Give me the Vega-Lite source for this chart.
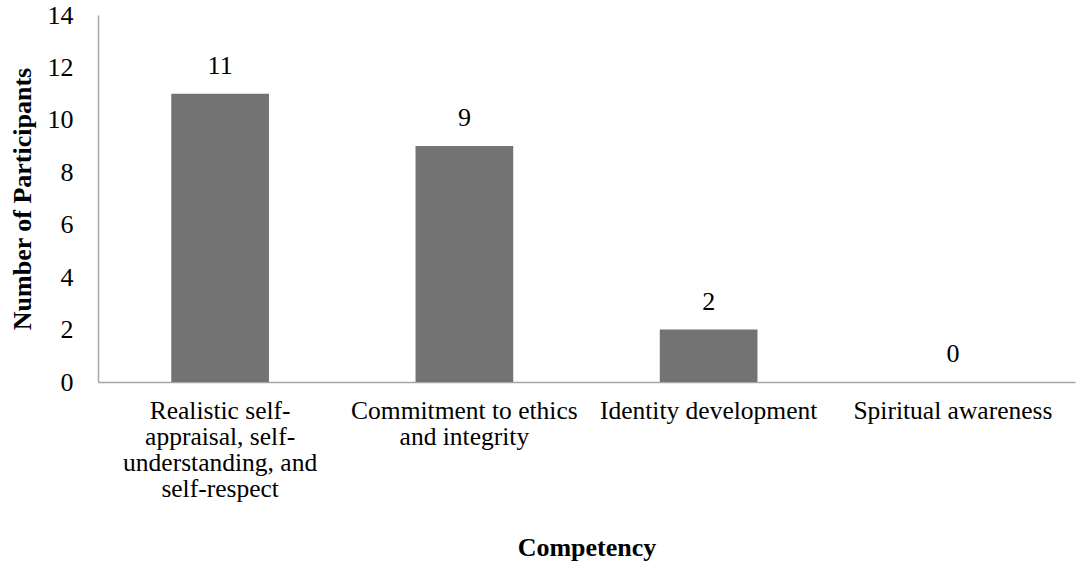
{
  "$schema": "https://vega.github.io/schema/vega-lite/v6.json",
  "width": 977,
  "height": 367,
  "autosize": {"type": "none"},
  "padding": {"left": 98, "top": 15, "right": 3, "bottom": 189},
  "background": "white",
  "config": {
    "view": {"stroke": null},
    "font": "'Liberation Serif', 'Times New Roman', serif",
    "axis": {"labelFont": "'Liberation Serif', 'Times New Roman', serif", "titleFont": "'Liberation Serif', 'Times New Roman', serif", "labelColor": "black", "titleColor": "black"}
  },
  "data": {
    "values": [
      {"competency": "Realistic self-appraisal, self-understanding, and self-respect", "count": 11},
      {"competency": "Commitment to ethics and integrity", "count": 9},
      {"competency": "Identity development", "count": 2},
      {"competency": "Spiritual awareness", "count": 0}
    ]
  },
  "encoding": {
    "x": {
      "field": "competency",
      "type": "nominal",
      "sort": null,
      "scale": {"paddingInner": 0, "paddingOuter": 0},
      "axis": {
        "title": "Competency",
        "titleFontSize": 26,
        "titleFontWeight": "bold",
        "titleY": 152,
        "labelAngle": 0,
        "labelFontSize": 25.5,
        "labelPadding": 16,
        "labelLineHeight": 26,
        "labelLimit": 0,
        "ticks": false,
        "domainColor": "#a6a6a6",
        "domainWidth": 1.5,
        "labelExpr": "datum.value == 'Realistic self-appraisal, self-understanding, and self-respect' ? ['Realistic self-', 'appraisal, self-', 'understanding, and', 'self-respect'] : datum.value == 'Commitment to ethics and integrity' ? ['Commitment to ethics', 'and integrity'] : datum.value"
      }
    },
    "y": {
      "field": "count",
      "type": "quantitative",
      "scale": {"domain": [0, 14]},
      "axis": {
        "title": "Number of Participants",
        "titleFontSize": 26,
        "titleFontWeight": "bold",
        "titlePadding": 12,
        "values": [0, 2, 4, 6, 8, 10, 12, 14],
        "labelFontSize": 26,
        "labelPadding": 25,
        "ticks": false,
        "grid": false,
        "domainColor": "#a6a6a6",
        "domainWidth": 1.5
      }
    }
  },
  "layer": [
    {"mark": {"type": "bar", "color": "#737373", "width": {"band": 0.4}}},
    {"mark": {"type": "text", "fontSize": 26, "dy": -28, "color": "black", "font": "'Liberation Serif', 'Times New Roman', serif"}, "encoding": {"text": {"field": "count", "type": "quantitative"}}}
  ]
}
